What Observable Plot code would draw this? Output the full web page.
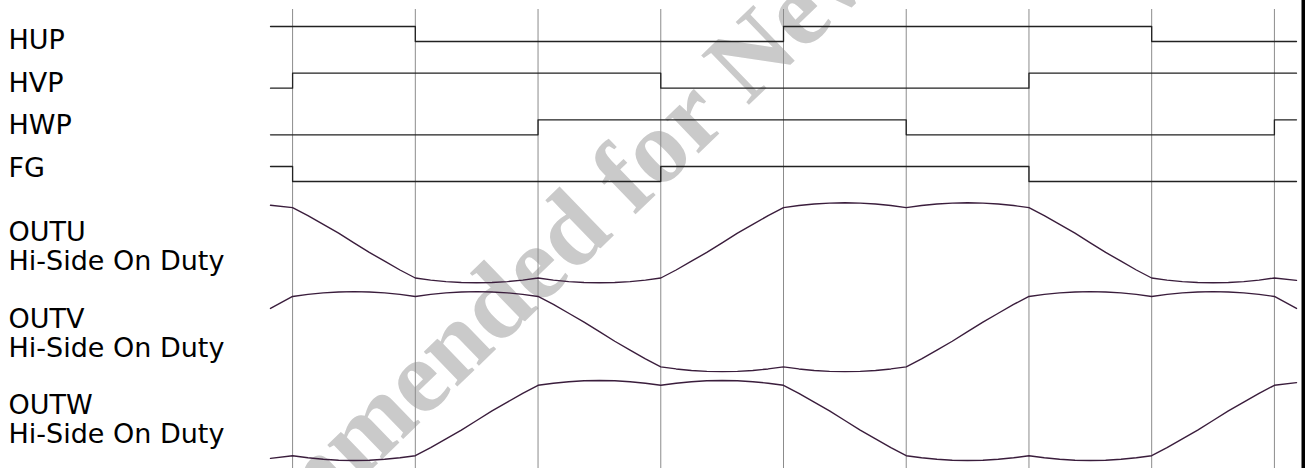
<!DOCTYPE html>
<html><head><meta charset="utf-8">
<script src="https://cdn.jsdelivr.net/npm/d3@7"></script>
<script src="https://cdn.jsdelivr.net/npm/@observablehq/plot@0.6"></script>
<style>body{margin:0;background:#fff} #chart svg{display:block}</style>
</head><body><div id="chart"></div>
<script>
// ---- data ----
const sectors = [0, 1, 2, 3, 4, 5, 6, 7, 8];            // 60° electrical boundaries (grid lines)
const segmentStarts = [-0.18, 0, 1, 2, 3, 4, 5, 6, 7, 8];
const traceEnd = 8.18;
const digitalNames = ["HUP", "HVP", "HWP", "FG"];
const HUP = [1, 1, 0, 0, 0, 1, 1, 1, 0, 0];
const HVP = [0, 1, 1, 1, 0, 0, 0, 1, 1, 1];
const HWP = [0, 0, 0, 1, 1, 1, 0, 0, 0, 1];
const FG  = [1, 0, 0, 0, 1, 1, 1, 0, 0, 0];

const analogNames = ["OUTU", "OUTV", "OUTW"];
const analogSubtitle = "Hi-Side On Duty";
const dutyTimes = [-0.18,
  0, 0.125, 0.25, 0.375, 0.5, 0.625, 0.75, 0.875,
  1, 1.125, 1.25, 1.375, 1.5, 1.625, 1.75, 1.875,
  2, 2.125, 2.25, 2.375, 2.5, 2.625, 2.75, 2.875,
  3, 3.125, 3.25, 3.375, 3.5, 3.625, 3.75, 3.875,
  4, 4.125, 4.25, 4.375, 4.5, 4.625, 4.75, 4.875,
  5, 5.125, 5.25, 5.375, 5.5, 5.625, 5.75, 5.875,
  6, 6.125, 6.25, 6.375, 6.5, 6.625, 6.75, 6.875,
  7, 7.125, 7.25, 7.375, 7.5, 7.625, 7.75, 7.875,
  8, 8.18];
// hi-side on duty (%)
const OUTU = [97,
  94, 84, 73, 62, 50, 38, 27, 16,
  6, 3.4, 1.5, 0.4, 0, 0.4, 1.5, 3.4,
  6, 3.4, 1.5, 0.4, 0, 0.4, 1.5, 3.4,
  6, 16, 27, 38, 50, 62, 73, 84,
  94, 96.6, 98.5, 99.6, 100, 99.6, 98.5, 96.6,
  94, 96.6, 98.5, 99.6, 100, 99.6, 98.5, 96.6,
  94, 84, 73, 62, 50, 38, 27, 16,
  6, 3.4, 1.5, 0.4, 0, 0.4, 1.5, 3.4,
  6, 3];
const OUTV = [79,
  94, 96.6, 98.5, 99.6, 100, 99.6, 98.5, 96.6,
  94, 96.6, 98.5, 99.6, 100, 99.6, 98.5, 96.6,
  94, 84, 73, 62, 50, 38, 27, 16,
  6, 3.4, 1.5, 0.4, 0, 0.4, 1.5, 3.4,
  6, 3.4, 1.5, 0.4, 0, 0.4, 1.5, 3.4,
  6, 16, 27, 38, 50, 62, 73, 84,
  94, 96.6, 98.5, 99.6, 100, 99.6, 98.5, 96.6,
  94, 96.6, 98.5, 99.6, 100, 99.6, 98.5, 96.6,
  94, 79];
const OUTW = [2.6,
  6, 3.4, 1.5, 0.4, 0, 0.4, 1.5, 3.4,
  6, 16, 27, 38, 50, 62, 73, 84,
  94, 96.6, 98.5, 99.6, 100, 99.6, 98.5, 96.6,
  94, 96.6, 98.5, 99.6, 100, 99.6, 98.5, 96.6,
  94, 84, 73, 62, 50, 38, 27, 16,
  6, 3.4, 1.5, 0.4, 0, 0.4, 1.5, 3.4,
  6, 3.4, 1.5, 0.4, 0, 0.4, 1.5, 3.4,
  6, 16, 27, 38, 50, 62, 73, 84,
  94, 97.4];

const watermark = "Not Recommended for New Designs";

// ---- layout (vertical lanes, in px from top) ----
const digitalTop = 26, digitalPitch = 46.67, logicSwing = 15;
const analogTop = 202.3, analogPitch = 88.85, dutySwing = 80;
const digitalLabelBase = 48.3, digitalLabelPitch = 42.8;
const analogLabelBase = 240.7, analogLabelPitch = 86.3, labelLine = 29.2;

const levels = [HUP, HVP, HWP, FG];
const digitalRows = digitalNames.flatMap((name, i) => {
  const lv = levels[i];
  const yy = v => digitalTop + i * digitalPitch + (1 - v) * logicSwing;
  const pts = segmentStarts.map((t, j) => ({name, t, y: yy(lv[j])}));
  pts.push({name, t: traceEnd, y: yy(lv[lv.length - 1])});
  return pts;
});
const duties = [OUTU, OUTV, OUTW];
const analogRows = analogNames.flatMap((name, i) =>
  dutyTimes.map((t, j) => ({name, t, y: analogTop + i * analogPitch + (100 - duties[i][j]) / 100 * dutySwing})));

const labelRows = [
  ...digitalNames.map((label, i) => ({label, y: digitalLabelBase + i * digitalLabelPitch})),
  ...analogNames.flatMap((label, i) => [
    {label, y: analogLabelBase + i * analogLabelPitch},
    {label: analogSubtitle, y: analogLabelBase + i * analogLabelPitch + labelLine}
  ])
];

const chart = Plot.plot({
  width: 1305, height: 468,
  marginLeft: 270, marginRight: 9, marginTop: 0, marginBottom: 0,
  x: {domain: [-0.18, traceEnd], axis: null},
  y: {domain: [0, 468], range: [0, 468], axis: null},
  marks: [
    Plot.text([watermark], {x: -2.383, y: 827.5, text: d => d, rotate: -44, textAnchor: "start", lineAnchor: "bottom",
      fontSize: 105, fontFamily: "Liberation Serif", fontWeight: "bold", fill: "#cacaca"}),
    Plot.ruleX(sectors, {x: d => d, y1: 9, y2: 468, stroke: "#8c8c8c", strokeWidth: 1}),
    Plot.line(digitalRows, {x: "t", y: "y", z: "name", curve: "step-after", stroke: "#222", strokeWidth: 1.3}),
    Plot.line(analogRows, {x: "t", y: "y", z: "name", stroke: "#3a1d3c", strokeWidth: 1.4}),
    Plot.text(labelRows, {x: -0.18, y: "y", text: "label", dx: -262, textAnchor: "start", lineAnchor: "bottom",
      fontSize: 27, fontFamily: "DejaVu Sans", fill: "#000"}),
    Plot.ruleX([traceEnd], {dx: 7, stroke: "#000", strokeWidth: 4})
  ]
});
document.getElementById("chart").appendChild(chart);
</script>
</body></html>
